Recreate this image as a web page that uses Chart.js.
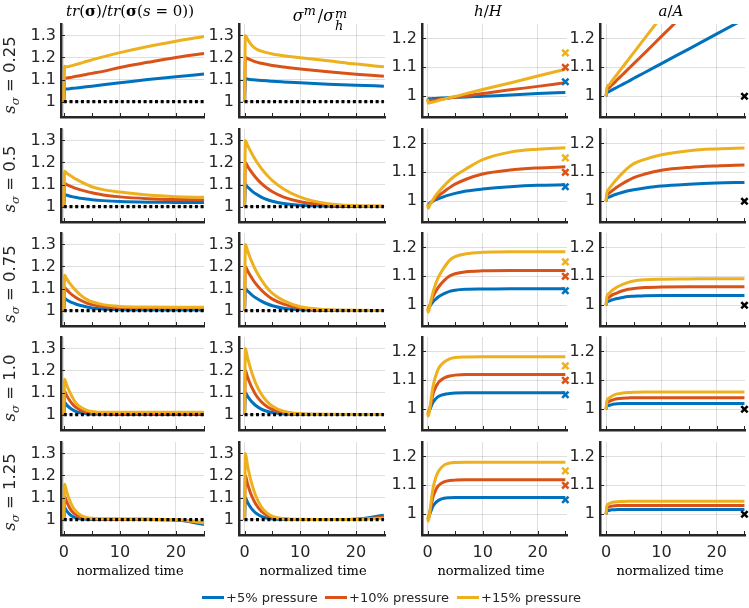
<!DOCTYPE html>
<html>
<head>
<meta charset="utf-8">
<script src="https://cdn.jsdelivr.net/npm/chart.js@4.4.1/dist/chart.umd.min.js"></script>
<style>
  body { margin: 0; width: 749px; height: 608px; overflow: hidden; background: #fff; position: relative;
         font-family: 'DejaVu Sans', sans-serif; color: #262626; }
  canvas { position: absolute; }
  .title { position: absolute; top: 1px; font-family: 'DejaVu Serif', serif; font-size: 15px; line-height: 20px;
           transform: translateX(-50%); white-space: nowrap; color: #000; }
  .big { font-size: 16px; }
  .big sup { font-size: 0.8em; margin-right: 2px; }
  .ss { display: inline-flex; flex-direction: column; font-size: 0.8em; line-height: 0.95; vertical-align: 0.3em; margin-left: 1px; }
  .rowlab { position: absolute; left: 11px; font-size: 16.5px; white-space: nowrap; color: #262626;
            transform: translate(-50%, -50%) rotate(-90deg); }
  .rowlab i { font-family: 'DejaVu Serif', serif; }
  .rowlab sub { font-size: 0.72em; }
  .xlab { position: absolute; top: 563px; font-family: 'DejaVu Serif', serif; font-size: 13px; color: #000;
          transform: translateX(-50%); white-space: nowrap; }
  .leg { position: absolute; top: 590px; font-size: 13px; line-height: 16px; white-space: nowrap; color: #262626; }
  .leg span { display: inline-block; width: 22px; height: 3px; vertical-align: middle; margin-right: 2px; position: relative; top: -1px; }
</style>
</head>
<body>
<script>
// sample times shared by every curve
const times = [0, 0.15, 0.5, 1, 1.5, 2, 3, 4, 5, 7, 10, 15, 20, 25];

// each panel: [ +5%, +10%, +15% ] pressure
// s_sigma = 0.25
const tr025 = [
  [1.0, 1.055, 1.057, 1.058, 1.06, 1.061, 1.064, 1.067, 1.07, 1.076, 1.085, 1.1, 1.113, 1.125],
  [1.0, 1.105, 1.107, 1.109, 1.111, 1.114, 1.118, 1.123, 1.128, 1.137, 1.155, 1.178, 1.2, 1.218],
  [1.0, 1.16, 1.158, 1.16, 1.163, 1.167, 1.174, 1.182, 1.189, 1.203, 1.222, 1.25, 1.274, 1.295]
];
const sig025 = [
  [1.0, 1.103, 1.102, 1.1, 1.099, 1.098, 1.096, 1.094, 1.092, 1.089, 1.085, 1.079, 1.074, 1.07],
  [1.0, 1.2, 1.196, 1.19, 1.185, 1.18, 1.174, 1.169, 1.164, 1.157, 1.148, 1.135, 1.124, 1.115],
  [1.0, 1.3, 1.285, 1.265, 1.25, 1.24, 1.229, 1.222, 1.216, 1.208, 1.199, 1.185, 1.17, 1.158]
];
const h025 = [
  [0.992, 0.991, 0.991, 0.992, 0.992, 0.993, 0.994, 0.995, 0.996, 0.997, 1.0, 1.004, 1.009, 1.013],
  [0.99, 0.984, 0.985, 0.986, 0.987, 0.989, 0.991, 0.994, 0.996, 1.001, 1.009, 1.022, 1.034, 1.047],
  [0.99, 0.976, 0.978, 0.98, 0.982, 0.985, 0.99, 0.995, 0.999, 1.009, 1.023, 1.046, 1.07, 1.093]
];
const a025 = [
  [1.0, 1.012, 1.016, 1.021, 1.026, 1.031, 1.041, 1.051, 1.062, 1.082, 1.113, 1.164, 1.216, 1.267],
  [1.0, 1.022, 1.029, 1.038, 1.047, 1.057, 1.075, 1.094, 1.113, 1.15, 1.207, 1.301, null, null],
  [1.0, 1.03, 1.039, 1.051, 1.064, 1.076, 1.101, 1.126, 1.151, 1.201, 1.276, null, null, null]
];
// s_sigma = 0.5
const tr05 = [
  [1.0, 1.055, 1.052, 1.048, 1.045, 1.042, 1.038, 1.034, 1.031, 1.027, 1.023, 1.02, 1.019, 1.018],
  [1.0, 1.105, 1.1, 1.094, 1.089, 1.084, 1.076, 1.069, 1.063, 1.053, 1.044, 1.036, 1.032, 1.03],
  [1.0, 1.16, 1.152, 1.143, 1.135, 1.127, 1.113, 1.101, 1.09, 1.077, 1.066, 1.052, 1.045, 1.042]
];
const sig05 = [
  [1.0, 1.1, 1.09, 1.078, 1.067, 1.058, 1.043, 1.032, 1.024, 1.014, 1.006, 1.002, 1.0, 1.0],
  [1.0, 1.2, 1.185, 1.165, 1.148, 1.132, 1.105, 1.084, 1.067, 1.043, 1.022, 1.007, 1.002, 1.001],
  [1.0, 1.3, 1.28, 1.255, 1.232, 1.21, 1.173, 1.143, 1.118, 1.08, 1.043, 1.013, 1.004, 1.002]
];
const h05 = [
  [0.99, 0.99, 0.995, 1.0, 1.005, 1.009, 1.016, 1.022, 1.027, 1.035, 1.042, 1.05, 1.055, 1.057],
  [0.985, 0.985, 0.992, 1.002, 1.011, 1.019, 1.033, 1.047, 1.059, 1.076, 1.094, 1.108, 1.115, 1.119],
  [0.99, 0.976, 0.99, 1.005, 1.02, 1.032, 1.053, 1.072, 1.088, 1.112, 1.144, 1.17, 1.18, 1.185]
];
const a05 = [
  [1.0, 1.01, 1.014, 1.018, 1.022, 1.025, 1.031, 1.036, 1.04, 1.046, 1.053, 1.059, 1.063, 1.065],
  [1.0, 1.02, 1.027, 1.035, 1.042, 1.049, 1.061, 1.072, 1.082, 1.094, 1.107, 1.117, 1.122, 1.125],
  [1.0, 1.03, 1.042, 1.055, 1.067, 1.078, 1.098, 1.116, 1.13, 1.145, 1.161, 1.175, 1.181, 1.184]
];
// s_sigma = 0.75
const tr075 = [
  [1.0, 1.055, 1.049, 1.042, 1.036, 1.031, 1.023, 1.017, 1.012, 1.007, 1.004, 1.003, 1.003, 1.003],
  [1.0, 1.105, 1.095, 1.082, 1.071, 1.062, 1.047, 1.035, 1.027, 1.018, 1.012, 1.01, 1.01, 1.01],
  [1.0, 1.16, 1.145, 1.126, 1.11, 1.095, 1.07, 1.052, 1.04, 1.027, 1.019, 1.016, 1.015, 1.015]
];
const sig075 = [
  [1.0, 1.1, 1.09, 1.078, 1.067, 1.058, 1.043, 1.031, 1.022, 1.011, 1.004, 1.001, 1.0, 1.0],
  [1.0, 1.2, 1.183, 1.16, 1.14, 1.122, 1.093, 1.07, 1.052, 1.029, 1.011, 1.002, 1.0, 1.0],
  [1.0, 1.3, 1.275, 1.24, 1.21, 1.183, 1.14, 1.105, 1.078, 1.045, 1.017, 1.004, 1.001, 1.0]
];
const h075 = [
  [0.99, 0.99, 0.999, 1.012, 1.021, 1.029, 1.04, 1.048, 1.052, 1.055, 1.056, 1.057, 1.057, 1.057],
  [0.985, 0.985, 1.004, 1.03, 1.048, 1.063, 1.085, 1.101, 1.109, 1.116, 1.119, 1.12, 1.12, 1.12],
  [0.99, 0.976, 1.005, 1.045, 1.075, 1.098, 1.13, 1.155, 1.168, 1.178, 1.183, 1.185, 1.185, 1.185]
];
const a075 = [
  [1.0, 1.01, 1.014, 1.018, 1.021, 1.023, 1.027, 1.03, 1.031, 1.033, 1.034, 1.034, 1.034, 1.034],
  [1.0, 1.02, 1.027, 1.034, 1.039, 1.043, 1.05, 1.055, 1.058, 1.061, 1.063, 1.064, 1.064, 1.064],
  [1.0, 1.03, 1.04, 1.05, 1.057, 1.063, 1.072, 1.079, 1.084, 1.088, 1.09, 1.091, 1.092, 1.092]
];
// s_sigma = 1.0
const tr10 = [
  [1.0, 1.055, 1.044, 1.032, 1.023, 1.016, 1.008, 1.004, 1.002, 1.001, 1.0, 1.0, 1.0, 1.0],
  [1.0, 1.105, 1.087, 1.066, 1.049, 1.036, 1.02, 1.011, 1.007, 1.005, 1.005, 1.005, 1.005, 1.005],
  [1.0, 1.16, 1.135, 1.105, 1.08, 1.058, 1.033, 1.02, 1.014, 1.01, 1.01, 1.01, 1.01, 1.01]
];
const sig10 = [
  [1.0, 1.1, 1.085, 1.067, 1.053, 1.041, 1.025, 1.015, 1.009, 1.003, 1.001, 1.0, 1.0, 1.0],
  [1.0, 1.2, 1.173, 1.14, 1.113, 1.09, 1.058, 1.037, 1.023, 1.009, 1.002, 1.0, 1.0, 1.0],
  [1.0, 1.3, 1.262, 1.215, 1.175, 1.142, 1.093, 1.06, 1.038, 1.015, 1.004, 1.001, 1.0, 1.0]
];
const h10 = [
  [0.99, 0.99, 1.002, 1.024, 1.036, 1.044, 1.051, 1.054, 1.056, 1.057, 1.057, 1.057, 1.057, 1.057],
  [0.985, 0.985, 1.009, 1.052, 1.077, 1.093, 1.108, 1.115, 1.118, 1.12, 1.12, 1.12, 1.12, 1.12],
  [0.99, 0.976, 1.013, 1.079, 1.116, 1.141, 1.163, 1.174, 1.179, 1.181, 1.182, 1.182, 1.182, 1.182]
];
const a10 = [
  [1.0, 1.01, 1.013, 1.016, 1.018, 1.019, 1.02, 1.02, 1.02, 1.02, 1.02, 1.02, 1.02, 1.02],
  [1.0, 1.02, 1.026, 1.031, 1.034, 1.036, 1.038, 1.039, 1.04, 1.04, 1.04, 1.04, 1.04, 1.04],
  [1.0, 1.03, 1.038, 1.045, 1.05, 1.053, 1.056, 1.058, 1.059, 1.06, 1.06, 1.06, 1.06, 1.06]
];
// s_sigma = 1.25
const tr125 = [
  [1.0, 1.055, 1.04, 1.025, 1.015, 1.009, 1.003, 1.001, 1.0, 1.0, 1.0, 1.0, 0.998, 0.978],
  [1.0, 1.105, 1.082, 1.055, 1.036, 1.024, 1.01, 1.005, 1.003, 1.002, 1.002, 1.001, 0.999, 0.984],
  [1.0, 1.16, 1.128, 1.09, 1.062, 1.042, 1.02, 1.01, 1.006, 1.004, 1.003, 1.002, 1.0, 0.986]
];
const sig125 = [
  [1.0, 1.1, 1.08, 1.058, 1.042, 1.03, 1.015, 1.007, 1.003, 1.001, 1.0, 1.0, 1.002, 1.02],
  [1.0, 1.2, 1.165, 1.125, 1.095, 1.071, 1.038, 1.02, 1.01, 1.003, 1.0, 1.0, 1.001, 1.012],
  [1.0, 1.3, 1.25, 1.19, 1.145, 1.108, 1.058, 1.03, 1.015, 1.004, 1.001, 1.0, 1.0, 1.006]
];
const h125 = [
  [0.99, 0.99, 1.005, 1.028, 1.04, 1.048, 1.055, 1.057, 1.058, 1.058, 1.058, 1.058, 1.058, 1.058],
  [0.985, 0.985, 1.014, 1.06, 1.084, 1.099, 1.112, 1.117, 1.118, 1.119, 1.119, 1.119, 1.119, 1.119],
  [0.99, 0.976, 1.021, 1.09, 1.127, 1.149, 1.17, 1.177, 1.179, 1.18, 1.18, 1.18, 1.18, 1.18]
];
const a125 = [
  [1.0, 1.01, 1.013, 1.015, 1.015, 1.016, 1.016, 1.016, 1.016, 1.016, 1.016, 1.016, 1.016, 1.016],
  [1.0, 1.02, 1.025, 1.028, 1.029, 1.03, 1.03, 1.03, 1.03, 1.03, 1.03, 1.03, 1.03, 1.03],
  [1.0, 1.03, 1.036, 1.04, 1.042, 1.043, 1.044, 1.045, 1.045, 1.045, 1.045, 1.045, 1.045, 1.045]
];

// reference markers and baseline
const hTargets = [1.05, 1.1, 1.15];
const aTarget = [1.0];
const targetTime = 25;
const baselineTimes = [0, 25];
const baselineValues = [1, 1];

const rowValues = ['0.25', '0.5', '0.75', '1.0', '1.25'];
const seriesNames = ['+5% pressure', '+10% pressure', '+15% pressure'];
const stressTicks = [1, 1.1, 1.2, 1.3];
const geomTicks = [1, 1.1, 1.2];
const timeTicks = [0, 5, 10, 15, 20, 25];   // small inward marks
const timeLabels = [0, 10, 20];             // labelled ticks with grid lines

const panels = [
  [tr025, sig025, h025, a025],
  [tr05, sig05, h05, a05],
  [tr075, sig075, h075, a075],
  [tr10, sig10, h10, a10],
  [tr125, sig125, h125, a125]
];

const colors = ['#0072BD', '#D95319', '#EDB120'];
const axisColor = '#262626';
const gridColor = 'rgba(38,38,38,0.15)';

// layout of the grid (pixels)
const colLeft = [60.5, 238.5, 421.5, 600];
const colWidth = [143, 146, 145, 145];
const colX = [[-0.5, 25], [-1, 25.2], [-1, 25.3], [-1.1, 25.1]];
const colY = [[0.93, 1.352], [0.93, 1.352], [0.928, 1.25], [0.928, 1.25]];
const rowTop = [24, 128.5, 233, 337, 441.5];
const PLOT_H = 93, Y_W = 44, PAD_T = 14, PAD_R = 10, PAD_B = 12;

const insideTicks = {
  id: 'insideTicks',
  afterDraw(chart) {
    const { ctx, chartArea, scales: { x, y } } = chart;
    ctx.save();
    ctx.strokeStyle = axisColor;
    ctx.lineWidth = 1;
    ctx.beginPath();
    timeTicks.forEach(v => {
      const px = Math.round(x.getPixelForValue(v)) + 0.5;
      ctx.moveTo(px, chartArea.bottom);
      ctx.lineTo(px, chartArea.bottom - 4);
    });
    y.ticks.forEach(t => {
      const py = Math.round(y.getPixelForValue(t.value)) + 0.5;
      ctx.moveTo(chartArea.left, py);
      ctx.lineTo(chartArea.left + 4, py);
    });
    ctx.stroke();
    ctx.restore();
  }
};

function makePanel(r, c) {
  const bottom = r === panels.length - 1;
  const xH = bottom ? 26 : 0;
  const canvas = document.createElement('canvas');
  canvas.width = Y_W + colWidth[c] + PAD_R;
  canvas.height = PAD_T + PLOT_H + xH + PAD_B;
  canvas.style.left = (colLeft[c] - Y_W) + 'px';
  canvas.style.top = (rowTop[r] - PAD_T) + 'px';
  document.body.appendChild(canvas);

  const datasets = panels[r][c].map((vals, i) => ({
    data: times.map((t, k) => ({ x: t, y: vals[k] })),
    borderColor: colors[i],
    borderWidth: 3,
    pointRadius: 0,
    cubicInterpolationMode: 'monotone',
    clip: { left: 0, top: 0, right: 2, bottom: 2 },
    order: 3 - i
  }));
  if (c < 2) {
    datasets.push({
      data: baselineTimes.map((t, k) => ({ x: t, y: baselineValues[k] })),
      borderColor: '#000', borderWidth: 3.2, borderDash: [3, 2.7], borderCapStyle: 'butt',
      pointRadius: 0, order: 0
    });
  } else {
    const marks = c === 2 ? hTargets : aTarget;
    datasets.push({
      data: marks.map(v => ({ x: targetTime, y: v })),
      showLine: false, clip: false, order: 0,
      pointStyle: 'crossRot', pointRadius: 4.5, pointBorderWidth: 2.5,
      pointBorderColor: c === 2 ? colors : ['#000']
    });
  }

  const yTicks = c < 2 ? stressTicks : geomTicks;
  new Chart(canvas, {
    type: 'line',
    data: { datasets },
    options: {
      responsive: false,
      animation: false,
      events: [],
      devicePixelRatio: 1,
      layout: { padding: { left: 0, top: PAD_T, right: PAD_R, bottom: PAD_B } },
      plugins: { legend: { display: false }, tooltip: { enabled: false } },
      scales: {
        x: {
          type: 'linear', min: colX[c][0], max: colX[c][1],
          afterBuildTicks: s => { s.ticks = timeLabels.map(v => ({ value: v })); },
          afterFit: s => { s.height = xH; s.paddingLeft = 0; s.paddingRight = 0; },
          grid: { color: gridColor, drawTicks: false },
          border: { display: true, color: axisColor, width: 2.5 },
          ticks: {
            display: bottom, autoSkip: false, maxRotation: 0, padding: 8, color: axisColor,
            font: { family: 'DejaVu Sans', size: 16 },
            callback: v => String(v)
          }
        },
        y: {
          type: 'linear', min: colY[c][0], max: colY[c][1],
          afterBuildTicks: s => { s.ticks = yTicks.map(v => ({ value: v })); },
          afterFit: s => { s.width = Y_W; s.paddingTop = 0; s.paddingBottom = 0; },
          grid: { color: gridColor, drawTicks: false },
          border: { display: true, color: axisColor, width: 2.5 },
          ticks: {
            autoSkip: false, padding: 5, color: axisColor,
            font: { family: 'DejaVu Sans', size: 16 },
            callback: v => String(v)
          }
        }
      }
    },
    plugins: [insideTicks]
  });
}

for (let r = 0; r < panels.length; r++) {
  for (let c = 0; c < 4; c++) makePanel(r, c);
}

// column titles
const titles = [
  { x: 130, html: '<i>tr</i>(<b>σ</b>)/<i>tr</i>(<b>σ</b>(<i>s</i> = 0))' },
  { x: 320, html: '<span class="big"><i>σ</i><sup><i>m</i></sup>/<i>σ</i><span class="ss"><i>m</i><i>h</i></span></span>' },
  { x: 488, html: '<i>h</i>/<i>H</i>' },
  { x: 671, html: '<i>a</i>/<i>A</i>' }
];
titles.forEach(t => {
  const d = document.createElement('div');
  d.className = 'title';
  d.style.left = t.x + 'px';
  d.innerHTML = t.html;
  document.body.appendChild(d);
});

// row labels
rowValues.forEach((v, r) => {
  const d = document.createElement('div');
  d.className = 'rowlab';
  d.style.top = (rowTop[r] + PLOT_H / 2 + 4) + 'px';
  d.innerHTML = '<i>s</i><sub><i>σ</i></sub> = ' + v;
  document.body.appendChild(d);
});

// x axis titles
[130, 313, 491, 670].forEach(x => {
  const d = document.createElement('div');
  d.className = 'xlab';
  d.style.left = x + 'px';
  d.textContent = 'normalized time';
  document.body.appendChild(d);
});

// legend
[202, 325, 457].forEach((x, i) => {
  const d = document.createElement('div');
  d.className = 'leg';
  d.style.left = x + 'px';
  d.innerHTML = '<span style="background:' + colors[i] + '"></span>' + seriesNames[i];
  document.body.appendChild(d);
});
</script>
</body>
</html>
